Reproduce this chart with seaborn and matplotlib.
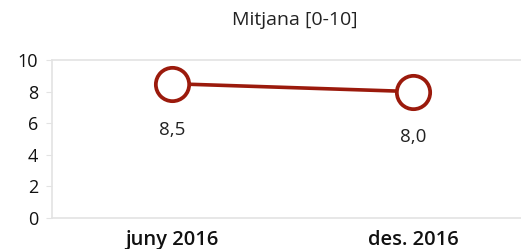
import matplotlib
matplotlib.use("Agg")
import matplotlib.pyplot as plt
import seaborn as sns
import pandas as pd

periods = ["juny 2016", "des. 2016"]
means = [8.5, 8.0]
value_labels = ["8,5", "8,0"]
title = "Mitjana [0-10]"

line_color = "#9b1a0c"
grid_color = "#e3e3e3"

sns.set_style("white")
plt.rcParams['font.family'] = ['Open Sans', 'DejaVu Sans']

df = pd.DataFrame({"period": periods, "mean": means})

fig = plt.figure(figsize=(5.21, 2.49), dpi=100)
ax = fig.add_axes([52 / 521, 31 / 249, 1 - 52 / 521, 158 / 249])

sns.lineplot(data=df, x="period", y="mean", ax=ax, color=line_color,
             linewidth=2.6, marker="o", markersize=24, markerfacecolor="white",
             markeredgecolor=line_color, markeredgewidth=2.7, sort=False)

for i, (v, lab) in enumerate(zip(means, value_labels)):
    ax.annotate(lab, (i, v), xytext=(0, -33), textcoords="offset points",
                ha="center", va="center", fontsize=13.5, color="#222222")

ax.set_xlim(-0.498, 1.448)
ax.set_ylim(0, 10)
ax.set_yticks([0, 2, 4, 6, 8, 10])
ax.set_xlabel("")
ax.set_ylabel("")

for side in ["left", "bottom", "top"]:
    ax.spines[side].set_color(grid_color)
    ax.spines[side].set_linewidth(1.2)
ax.spines["right"].set_visible(False)

ax.tick_params(axis="y", left=True, length=4, color=grid_color, labelsize=13,
               labelcolor="#111111", pad=6)
ax.tick_params(axis="x", bottom=False, labelsize=14.5, labelcolor="#111111", pad=5)
for t in ax.get_xticklabels():
    t.set_fontweight("semibold")
for t in ax.get_yticklabels():
    t.set_fontweight("medium")

fig.text(295 / 521, 1 - 20 / 249, title, ha="center", va="center",
         fontsize=14, color="#222222")

fig.savefig("out.png", dpi=100)
plt.close(fig)
